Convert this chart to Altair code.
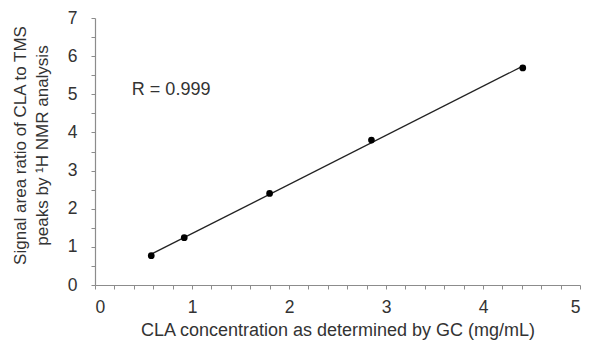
import altair as alt
import pandas as pd

# Data
gc_conc = [0.58, 0.92, 1.80, 2.85, 4.41]
nmr_ratio = [0.77, 1.24, 2.40, 3.80, 5.69]

x_ticks = [round(i * 0.2, 1) for i in range(26)]
y_ticks = [round(i * 0.5, 1) for i in range(15)]

df = pd.DataFrame({"x": gc_conc, "y": nmr_ratio})
ann = pd.DataFrame({"x": [0.38], "y": [5.1], "t": ["R = 0.999"]})

FONT = "Liberation Sans"
TXT = "#333333"
AX = "#8c8c8c"

LBL = "abs(datum.value - round(datum.value)) < 0.001 ? format(datum.value, 'd') : ''"

xenc = alt.X("x:Q", scale=alt.Scale(domain=[0, 5], nice=False),
             axis=alt.Axis(values=x_ticks, grid=False, labelExpr=LBL, labelOverlap=False,
                           title="CLA concentration as determined by GC (mg/mL)",
                           tickSize=4, labelPadding=9, titlePadding=6,
                           labelFontSize=17.5, titleFontSize=18))
yenc = alt.Y("y:Q", scale=alt.Scale(domain=[0, 7], nice=False),
             axis=alt.Axis(values=y_ticks, grid=False, labelExpr=LBL, labelOverlap=False,
                           title=["Signal area ratio of CLA to TMS", "peaks by ¹H NMR analysis"],
                           tickSize=4, labelPadding=14, titlePadding=16, titleLineHeight=22,
                           labelFontSize=17.5, titleFontSize=17, titleY=127))

line = alt.Chart(df).transform_regression("x", "y").mark_line(color="#222222", strokeWidth=1.3).encode(x=xenc, y=yenc)
pts = alt.Chart(df).mark_circle(color="#000000", opacity=1, size=45).encode(x=xenc, y=yenc)
txt = alt.Chart(ann).mark_text(align="left", baseline="middle", font=FONT, fontSize=18, color=TXT).encode(
    x=xenc, y=yenc, text="t:N")

chart = (line + pts + txt).properties(
    width=485, height=267, autosize="none",
    padding={"left": 95, "top": 18, "right": 9, "bottom": 57},
    background="white",
).configure_view(stroke=None).configure_axis(
    labelFont=FONT, titleFont=FONT,
    labelColor=TXT, titleColor=TXT, titleFontWeight="normal",
    domainColor=AX, tickColor=AX, domainWidth=1.2, tickWidth=1,
    labelOverlap=False,
)

chart.save("out.html", embed_options={"renderer": "svg", "actions": False})
